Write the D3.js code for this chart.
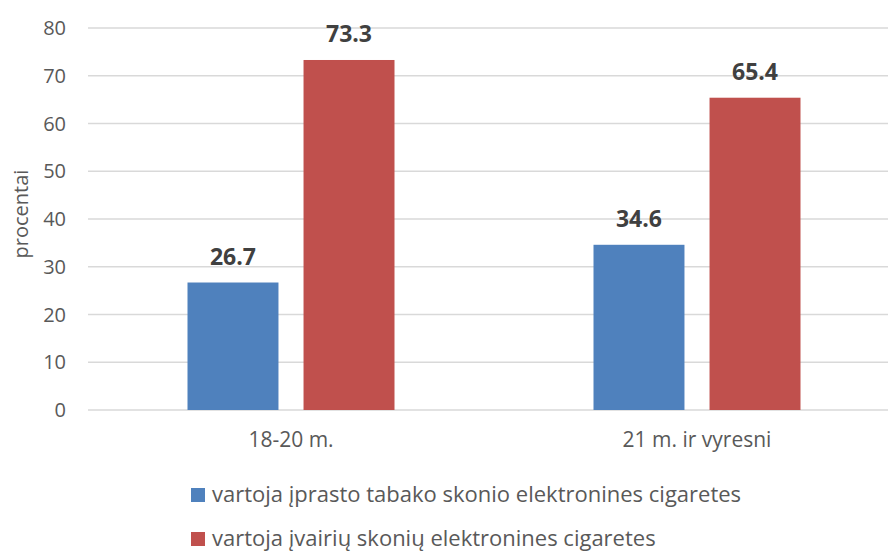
<!DOCTYPE html>
<html lang="lt">
<head>
    <meta charset="UTF-8">
    <title>Elektroninių cigarečių vartojimas</title>
    <script src="https://d3js.org/d3.v7.min.js"></script>
    <style>
        body { margin: 0; background: #fff; font-family: "Open Sans", sans-serif; }
        svg { display: block; }
    </style>
</head>
<body>
    <svg width="888" height="552"></svg>
    <script>
        // Data
        const categories = ["18-20 m.", "21 m. ir vyresni"];
        const seriesNames = [
            "vartoja įprasto tabako skonio elektronines cigaretes",
            "vartoja įvairių skonių elektronines cigaretes"
        ];
        const seriesColors = ["#4F81BD", "#C0504D"];
        const plainValues = [26.7, 34.6];
        const flavourValues = [73.3, 65.4];
        const yTicks = [0, 10, 20, 30, 40, 50, 60, 70, 80];

        const rows = categories.map((c, i) => ({
            cat: c,
            vals: [plainValues[i], flavourValues[i]]
        }));

        const svg = d3.select("svg");
        const plotLeft = 88, plotRight = 900, plotTop = 28, plotBottom = 410;

        const y = d3.scaleLinear().domain([0, 80]).range([plotBottom, plotTop]);
        const x0 = d3.scaleBand().domain(categories).range([plotLeft, plotRight]);
        const groupW = 207;
        const x1 = d3.scaleBand().domain([0, 1]).range([0, groupW]).paddingInner(0.216);
        const offset = (x0.bandwidth() - groupW) / 2;

        // gridlines
        svg.append("g").selectAll("line")
            .data(yTicks)
            .join("line")
            .attr("x1", plotLeft).attr("x2", 888)
            .attr("y1", d => y(d)).attr("y2", d => y(d))
            .attr("stroke", "#d9d9d9")
            .attr("stroke-width", 1.3);

        // y tick labels
        svg.append("g").selectAll("text")
            .data(yTicks)
            .join("text")
            .attr("x", 66)
            .attr("y", d => y(d))
            .attr("dy", "0.35em")
            .attr("text-anchor", "end")
            .attr("font-size", 20)
            .attr("fill", "#595959")
            .text(d => d);

        // y axis title
        svg.append("text")
            .attr("transform", "translate(28,214) rotate(-90)")
            .attr("text-anchor", "middle")
            .attr("font-size", 20)
            .attr("fill", "#595959")
            .text("procentai");

        // bars
        const groups = svg.append("g").selectAll("g")
            .data(rows)
            .join("g")
            .attr("transform", d => `translate(${x0(d.cat) + offset},0)`);

        groups.selectAll("rect")
            .data(d => d.vals)
            .join("rect")
            .attr("x", (d, i) => x1(i))
            .attr("width", x1.bandwidth())
            .attr("y", d => y(d))
            .attr("height", d => y(0) - y(d))
            .attr("fill", (d, i) => seriesColors[i]);

        groups.selectAll("text")
            .data(d => d.vals)
            .join("text")
            .attr("x", (d, i) => x1(i) + x1.bandwidth() / 2)
            .attr("y", d => y(d) - 18)
            .attr("text-anchor", "middle")
            .attr("font-size", 23)
            .attr("font-weight", "bold")
            .attr("fill", "#404040")
            .text(d => d.toFixed(1));

        // category labels
        svg.append("g").selectAll("text")
            .data(categories)
            .join("text")
            .attr("x", d => x0(d) + x0.bandwidth() / 2)
            .attr("y", 447)
            .attr("text-anchor", "middle")
            .attr("font-size", 21)
            .attr("fill", "#595959")
            .text(d => d);

        // legend
        const legend = svg.append("g").selectAll("g")
            .data(seriesNames)
            .join("g")
            .attr("transform", (d, i) => `translate(191,${488 + i * 44})`);

        legend.append("rect")
            .attr("width", 14).attr("height", 14)
            .attr("fill", (d, i) => seriesColors[i]);

        legend.append("text")
            .attr("x", 21)
            .attr("y", 14)
            .attr("font-size", 22)
            .attr("fill", "#595959")
            .text(d => d);
    </script>
</body>
</html>
